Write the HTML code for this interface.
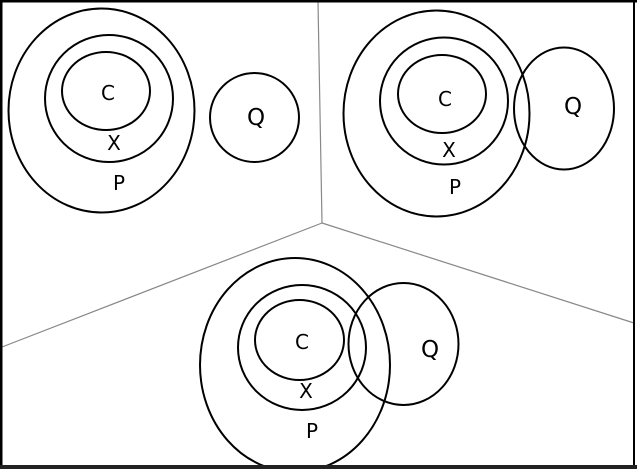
<!DOCTYPE html><html><head><style>html,body{margin:0;padding:0;background:#fff}svg{display:block}text{font-family:"DejaVu Sans","Liberation Sans",sans-serif;font-size:20px;fill:#000;text-anchor:middle;dominant-baseline:central}text.q{font-size:23px}</style></head><body>
<svg width="637" height="469" viewBox="0 0 637 469">
<rect x="0" y="0" width="637" height="469" fill="#fff"/>
<g stroke="#888" stroke-width="1.2" fill="none">
<line x1="318" y1="2" x2="322" y2="223"/>
<line x1="322" y1="223" x2="2" y2="347"/>
<line x1="322" y1="223" x2="634" y2="323"/>
</g>
<g stroke="#000" stroke-width="2" fill="none">
<ellipse cx="101.5" cy="110.5" rx="93" ry="102"/>
<ellipse cx="109" cy="98.5" rx="64" ry="63.5"/>
<ellipse cx="106" cy="91" rx="44" ry="39"/>
<ellipse cx="254.5" cy="117.5" rx="44.5" ry="44.5"/>
<ellipse cx="436.5" cy="113.5" rx="93" ry="103"/>
<ellipse cx="444" cy="101" rx="64" ry="63.5"/>
<ellipse cx="442" cy="94" rx="44" ry="39"/>
<ellipse cx="564" cy="108.5" rx="50" ry="61"/>
<ellipse cx="295" cy="365" rx="95" ry="107"/>
<ellipse cx="302" cy="347.5" rx="64" ry="62.5"/>
<ellipse cx="299.5" cy="340" rx="44.5" ry="40"/>
<ellipse cx="403.5" cy="344" rx="55" ry="61"/>
</g>
<text x="108" y="93">C</text><text x="114" y="143">X</text><text x="119" y="183">P</text><text class="q" x="256" y="118">Q</text>
<text x="445" y="99">C</text><text x="449" y="150">X</text><text x="455" y="187">P</text><text class="q" x="573" y="107">Q</text>
<text x="302" y="342">C</text><text x="306" y="391">X</text><text x="312" y="431">P</text><text class="q" x="430" y="350">Q</text>
<rect x="0" y="0" width="637" height="2.5" fill="#000"/>
<rect x="0" y="0" width="2.5" height="469" fill="#000"/>
<rect x="633" y="0" width="2" height="469" fill="#000"/>
<rect x="0" y="465" width="637" height="4" fill="#222"/>
</svg></body></html>
